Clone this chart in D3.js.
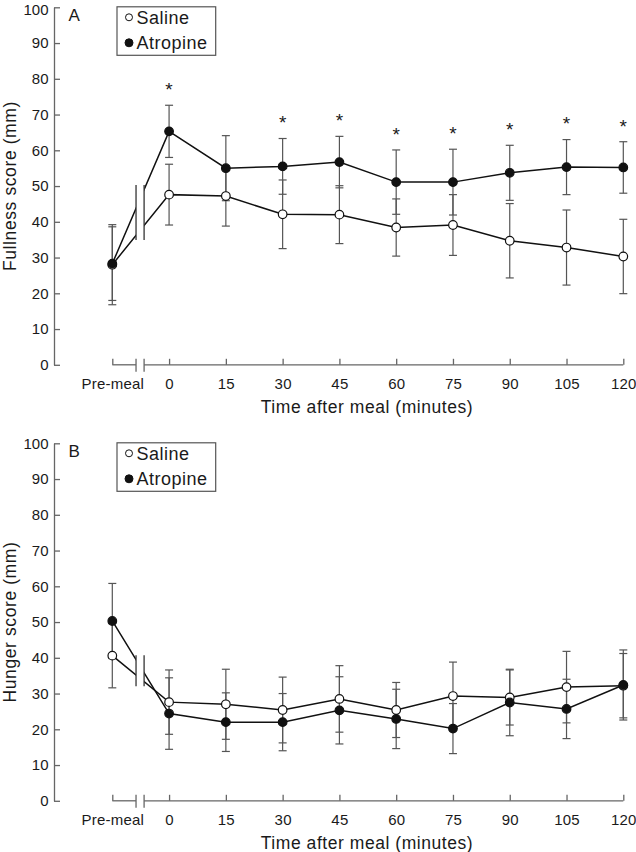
<!DOCTYPE html>
<html><head><meta charset="utf-8">
<script src="https://cdn.jsdelivr.net/npm/d3@7"></script>
<style>
body{margin:0;background:#fff}
text{font-family:"Liberation Sans",Arial,Helvetica,sans-serif;fill:#1a1a1a}
</style>
</head><body>
<svg id="chart" width="636" height="852"></svg>
<script>
// ---------- data ----------
const timeLabels = ['Pre-meal','0','15','30','45','60','75','90','105','120'];
const yTickValues = [0,10,20,30,40,50,60,70,80,90,100];
const seriesNames = ['Saline','Atropine'];
const panelLetters = ['A','B'];
const yTitles = ['Fullness score (mm)','Hunger score (mm)'];
const xTitle = 'Time after meal (minutes)';

const fullnessSaline      = [28.0, 47.6, 47.2, 42.1, 42.0, 38.4, 39.1, 34.7, 32.8, 30.3];
const fullnessSalineErr   = [11.2,  8.5,  8.4,  9.6,  8.1,  8.0,  8.5, 10.4, 10.5, 10.4];
const fullnessAtropine    = [28.3, 65.3, 55.0, 55.5, 56.7, 51.1, 51.1, 53.7, 55.3, 55.2];
const fullnessAtropineErr = [10.3,  7.3,  9.1,  7.8,  7.2,  9.0,  9.2,  7.7,  7.7,  7.2];
const fullnessSignificant = [false, true, false, true, true, true, true, true, true, true];

const hungerSaline        = [40.6, 27.6, 27.0, 25.4, 28.5, 25.4, 29.3, 28.9, 31.8, 32.2];
const hungerSalineErr     = [ 9.0,  9.0,  9.8,  9.2,  9.3,  7.7,  9.5,  7.7, 10.0,  9.0];
const hungerAtropine      = [50.3, 24.4, 22.0, 22.0, 25.3, 22.9, 20.2, 27.5, 25.7, 32.4];
const hungerAtropineErr   = [10.5, 10.0,  8.2,  8.0,  9.4,  8.3,  7.0,  9.3,  8.3,  9.8];
const hungerSignificant   = [false, false, false, false, false, false, false, false, false, false];

// ---------- layout ----------
const svg = d3.select('#chart');
const axisX = 54, plotH = 357.5;
const axisColor = '#666', errColor = '#555', lineColor = '#111';
const x = d3.scalePoint().domain(timeLabels).range([112.3, 623.3]);
const step = x.step();
const brk1 = x(timeLabels[0]) + step * 0.418;
const brk2 = x(timeLabels[0]) + step * 0.56;

const panels = [
  {top: 7.3, letter: panelLetters[0], yTitle: yTitles[0], topLabelShift: 2.5,
   s: fullnessSaline, se: fullnessSalineErr, a: fullnessAtropine, ae: fullnessAtropineErr, sig: fullnessSignificant},
  {top: 443.3, letter: panelLetters[1], yTitle: yTitles[1], topLabelShift: 0,
   s: hungerSaline, se: hungerSalineErr, a: hungerAtropine, ae: hungerAtropineErr, sig: hungerSignificant}
];

// clip path to break the lines between pre-meal and 0
const defs = svg.append('defs');
const clip = defs.append('clipPath').attr('id','brk');
clip.append('rect').attr('x',0).attr('y',-100).attr('width',brk1).attr('height',700);
clip.append('rect').attr('x',brk2).attr('y',-100).attr('width',636-brk2).attr('height',700);

panels.forEach(p => {
  const g = svg.append('g').attr('transform', `translate(0,${p.top})`);
  const y = d3.scaleLinear().domain([0,100]).range([plotH, 0]);

  // y axis
  const ya = g.append('g').attr('transform', `translate(${axisX},0)`)
    .call(d3.axisLeft(y).tickValues(yTickValues).tickSizeInner(-6).tickSizeOuter(0).tickPadding(5.5));
  ya.select('.domain').attr('stroke', axisColor).attr('stroke-width', 1.3);
  ya.selectAll('.tick line').attr('stroke', axisColor).attr('stroke-width', 1.3);
  ya.selectAll('.tick text').attr('font-size', 15).attr('fill','#1a1a1a')
    .style('font-family','"Liberation Sans",Arial,sans-serif')
    .attr('y', d => d === 100 ? p.topLabelShift : 0);

  // x axis
  const xa = g.append('g').attr('transform', `translate(0,${plotH})`)
    .call(d3.axisBottom(x).tickSizeInner(-6).tickSizeOuter(0));
  xa.select('.domain').remove();
  xa.selectAll('.tick line').attr('stroke', axisColor).attr('stroke-width', 1.3);
  xa.selectAll('.tick text').attr('font-size', 15).attr('y', 23.8).attr('dy', null)
    .attr('fill','#1a1a1a').attr('letter-spacing', 0.2)
    .style('font-family','"Liberation Sans",Arial,sans-serif');
  const segs = [[x(timeLabels[0]), brk1], [brk2, x(timeLabels[timeLabels.length-1])]];
  xa.selectAll('line.seg').data(segs).enter().append('line').attr('class','seg')
    .attr('x1', d => d[0]).attr('x2', d => d[1]).attr('y1', 0).attr('y2', 0)
    .attr('stroke', axisColor).attr('stroke-width', 1.3);
  xa.selectAll('line.brk').data([brk1, brk2]).enter().append('line').attr('class','brk')
    .attr('x1', d => d).attr('x2', d => d).attr('y1', -6).attr('y2', 7)
    .attr('stroke', axisColor).attr('stroke-width', 1.3);

  // titles
  g.append('text').attr('x', 367).attr('y', plotH + 48).attr('text-anchor','middle')
    .attr('font-size', 17.5).attr('letter-spacing', 0.55).text(xTitle);
  g.append('text').attr('transform', `translate(16,${plotH/2}) rotate(-90)`).attr('text-anchor','middle')
    .attr('font-size', 17.5).attr('letter-spacing', 0.6).text(p.yTitle);
  g.append('text').attr('x', 68.5).attr('y', 13.5).attr('font-size', 17).text(p.letter);

  const series = [
    {name: seriesNames[0], v: p.s, e: p.se, fill: '#fff'},
    {name: seriesNames[1], v: p.a, e: p.ae, fill: lineColor}
  ];

  // error bars
  series.forEach(s => {
    const eb = g.append('g');
    s.v.forEach((v, i) => {
      const cx = x(timeLabels[i]), yt = y(v + s.e[i]), yb = y(v - s.e[i]);
      eb.append('line').attr('x1',cx).attr('x2',cx).attr('y1',yt).attr('y2',yb)
        .attr('stroke',errColor).attr('stroke-width',1.2);
      [yt, yb].forEach(yy => eb.append('line').attr('x1',cx-4).attr('x2',cx+4).attr('y1',yy).attr('y2',yy)
        .attr('stroke',errColor).attr('stroke-width',1.2));
    });
  });

  // lines
  const line = d3.line().x((d,i) => x(timeLabels[i])).y(d => y(d));
  series.forEach(s => {
    g.append('path').datum(s.v).attr('d', line).attr('fill','none')
      .attr('stroke', lineColor).attr('stroke-width', 1.5).attr('clip-path','url(#brk)');
  });

  // break bars across the lines
  const x0 = x(timeLabels[0]), x1 = x(timeLabels[1]);
  const vals = [];
  series.forEach(s => [brk1, brk2].forEach(bx => {
    const t = (bx - x0) / (x1 - x0);
    vals.push(s.v[0] + t * (s.v[1] - s.v[0]));
  }));
  const bTop = y(d3.max(vals)) - 4.5, bBot = y(d3.min(vals)) + 4.5;
  g.selectAll('line.bb').data([brk1, brk2]).enter().append('line').attr('class','bb')
    .attr('x1', d => d).attr('x2', d => d).attr('y1', bTop).attr('y2', bBot)
    .attr('stroke', '#333').attr('stroke-width', 1.3);

  // markers
  series.forEach(s => {
    g.append('g').selectAll('circle').data(s.v).enter().append('circle')
      .attr('cx', (d,i) => x(timeLabels[i])).attr('cy', d => y(d)).attr('r', 4.3)
      .attr('fill', s.fill).attr('stroke', lineColor).attr('stroke-width', 1.2);
  });

  // significance asterisks
  p.a.forEach((v, i) => {
    if (!p.sig[i]) return;
    g.append('text').attr('x', x(timeLabels[i])).attr('y', y(v + p.ae[i]) - 9.2)
      .attr('text-anchor','middle').attr('font-size', 19).text('*');
  });

  // legend
  const lg = g.append('g').attr('transform','translate(117,-0.5)');
  lg.append('rect').attr('width', 98.7).attr('height', 48.5).attr('fill','#fff')
    .attr('stroke', '#555').attr('stroke-width', 1.2);
  series.forEach((s, k) => {
    lg.append('circle').attr('cx', 12).attr('cy', 10.5 + k*25.5).attr('r', k ? 4 : 3.5)
      .attr('fill', s.fill).attr('stroke', lineColor).attr('stroke-width', 1);
    lg.append('text').attr('x', 19.5).attr('y', 17.5 + k*24.3).attr('font-size', 18)
      .attr('letter-spacing', 0.5).text(s.name);
  });
});
</script>
</body></html>
